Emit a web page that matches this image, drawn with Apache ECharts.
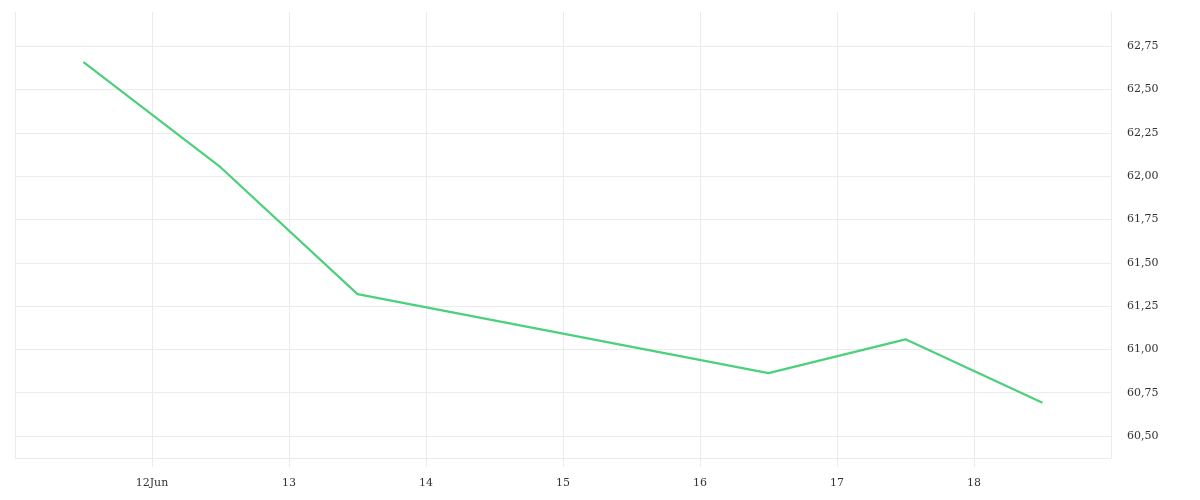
<!DOCTYPE html>
<html>
<head>
<meta charset="utf-8">
<script src="https://cdn.jsdelivr.net/npm/echarts@6/dist/echarts.min.js"></script>
<style>
html,body{margin:0;padding:0;background:#fff;}
#chart{width:1200px;height:500px;}
</style>
</head>
<body>
<div id="chart"></div>
<script>
// Data (June 2025, one value per trading day)
var dates = ['2025-06-11', '2025-06-12', '2025-06-13', '2025-06-16', '2025-06-17', '2025-06-18'];
var values = [62.658, 62.052, 61.319, 60.863, 61.058, 60.692];
var yTickValues = [60.50, 60.75, 61.00, 61.25, 61.50, 61.75, 62.00, 62.25, 62.50, 62.75];
var xStart = '2025-06-11';
var xEnd = '2025-06-19';
var monthNames = ['Jan','Feb','Mar','Apr','May','Jun','Jul','Aug','Sep','Oct','Nov','Dec'];

var DAY = 86400000;
function dayNum(s) { return Date.parse(s + 'T00:00:00Z') / DAY; }
var seriesData = dates.map(function (d, i) { return [dayNum(d) + 0.5, values[i]]; });

var chart = echarts.init(document.getElementById('chart'), null, { renderer: 'canvas' });
var font = '"DejaVu Serif", serif';
var gridColor = '#ebebeb';

chart.setOption({
  animation: false,
  grid: { left: 15, right: 89, top: 12, bottom: 42, containLabel: false },
  xAxis: {
    type: 'value',
    min: dayNum(xStart),
    max: dayNum(xEnd),
    interval: 1,
    axisLine: { show: true, lineStyle: { color: gridColor, width: 1 } },
    axisTick: { show: true, inside: false, length: 9, lineStyle: { color: gridColor, width: 1 } },
    splitLine: { show: true, lineStyle: { color: gridColor, width: 1 } },
    axisLabel: {
      showMinLabel: false,
      showMaxLabel: false,
      margin: 20,
      color: '#333',
      fontFamily: font,
      fontSize: 11,
      formatter: function (v) {
        var d = new Date(v * DAY);
        var day = d.getUTCDate();
        if (day === 12) return day + monthNames[d.getUTCMonth()];
        return String(day);
      }
    }
  },
  yAxis: {
    type: 'value',
    position: 'right',
    min: 60.373,
    max: 62.948,
    axisLine: { show: true, lineStyle: { color: gridColor } },
    axisTick: { show: false, customValues: yTickValues },
    splitLine: { show: true, lineStyle: { color: gridColor, width: 1 } },
    axisLabel: {
      customValues: yTickValues,
      margin: 16,
      color: '#333',
      fontFamily: font,
      fontSize: 11,
      formatter: function (v) { return v.toFixed(2).replace('.', ','); }
    }
  },
  series: [{
    type: 'line',
    data: seriesData,
    showSymbol: false,
    symbol: 'none',
    lineStyle: { color: '#4bd07b', width: 2.2 },
    itemStyle: { color: '#4bd07b' }
  }]
});
</script>
</body>
</html>
